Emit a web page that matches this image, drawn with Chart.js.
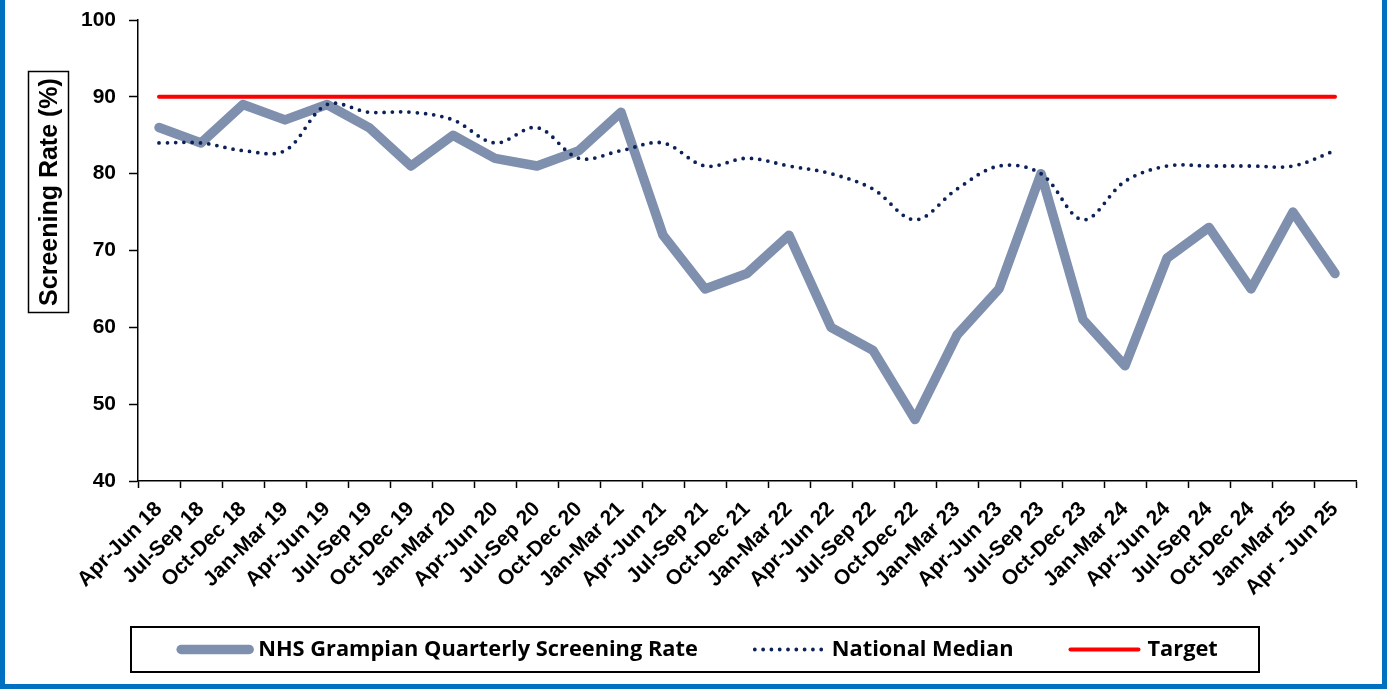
<!DOCTYPE html>
<html lang="en">
<head>
<meta charset="UTF-8">
<title>NHS Grampian Quarterly Screening Rate</title>
<script src="https://cdn.jsdelivr.net/npm/chart.js@4.4.0/dist/chart.umd.min.js"></script>
<style>
  html, body { margin: 0; padding: 0; background: #fff; }
  canvas { display: block; }
</style>
</head>
<body>
<canvas id="screeningChart" width="1387" height="689"></canvas>
<script>
const quarters = [
  "Apr-Jun 18", "Jul-Sep 18", "Oct-Dec 18", "Jan-Mar 19", "Apr-Jun 19", "Jul-Sep 19",
  "Oct-Dec 19", "Jan-Mar 20", "Apr-Jun 20", "Jul-Sep 20", "Oct-Dec 20", "Jan-Mar 21",
  "Apr-Jun 21", "Jul-Sep 21", "Oct-Dec 21", "Jan-Mar 22", "Apr-Jun 22", "Jul-Sep 22",
  "Oct-Dec 22", "Jan-Mar 23", "Apr-Jun 23", "Jul-Sep 23", "Oct-Dec 23", "Jan-Mar 24",
  "Apr-Jun 24", "Jul-Sep 24", "Oct-Dec 24", "Jan-Mar 25", "Apr - Jun 25"
];
const grampianRate = [86, 84, 89, 87, 89, 86, 81, 85, 82, 81, 83, 88, 72, 65, 67, 72, 60, 57, 48, 59, 65, 80, 61, 55, 69, 73, 65, 75, 67];
const nationalMedian = [84, 84, 83, 83, 89, 88, 88, 87, 84, 86, 82, 83, 84, 81, 82, 81, 80, 78, 74, 78, 81, 80, 74, 79, 81, 81, 81, 81, 83];
const targetRate = [90, 90, 90, 90, 90, 90, 90, 90, 90, 90, 90, 90, 90, 90, 90, 90, 90, 90, 90, 90, 90, 90, 90, 90, 90, 90, 90, 90, 90];
const seriesNames = ["NHS Grampian Quarterly Screening Rate", "National Median", "Target"];
const yAxisTitle = "Screening Rate (%)";

const arial = "'Liberation Sans', Arial, sans-serif";

// y title box, legend box and the blue page frame
const frame = {
  id: "frame",
  afterDraw(chart) {
    const ctx = chart.ctx;
    ctx.save();
    ctx.strokeStyle = "#000";
    ctx.lineWidth = 1.5;
    ctx.strokeRect(28.5, 71.5, 40, 241);
    ctx.translate(49, 192);
    ctx.rotate(-Math.PI / 2);
    ctx.font = "bold 25px " + arial;
    ctx.textAlign = "center";
    ctx.textBaseline = "middle";
    ctx.fillStyle = "#000";
    ctx.fillText(yAxisTitle, 0, 1);
    ctx.restore();

    // legend
    ctx.save();
    ctx.lineWidth = 2;
    ctx.strokeStyle = "#000";
    ctx.strokeRect(131, 627, 1128, 45);
    ctx.font = "bold 20px 'Open Sans', sans-serif";
    const fit = 20 * 439 / ctx.measureText(seriesNames[0]).width;
    ctx.font = "bold " + fit.toFixed(1) + "px 'Open Sans', sans-serif";
    ctx.textBaseline = "middle";
    const sampleW = 74, gapText = 6, gapItem = 54, cy = 649.5;
    const widths = seriesNames.map(n => ctx.measureText(n).width);
    let total = 0;
    widths.forEach((w, i) => { total += sampleW + gapText + w + (i < widths.length - 1 ? gapItem : 0); });
    let x = 698 - total / 2;
    chart.data.datasets.forEach((ds, i) => {
      ctx.save();
      ctx.strokeStyle = ds.borderColor;
      ctx.lineWidth = ds.borderWidth;
      ctx.lineCap = "round";
      ctx.setLineDash(ds.borderDash || []);
      ctx.beginPath();
      ctx.moveTo(x + 3, cy);
      ctx.lineTo(x + sampleW - 3, cy);
      ctx.stroke();
      ctx.restore();
      ctx.fillStyle = "#000";
      ctx.fillText(ds.label, x + sampleW + gapText, cy);
      x += sampleW + gapText + widths[i] + gapItem;
    });
    ctx.restore();

    ctx.save();
    ctx.fillStyle = "#0070C0";
    ctx.fillRect(0, 0, 5, 689);
    ctx.fillRect(1382, 0, 5, 689);
    ctx.fillRect(0, 684, 1387, 5);
    ctx.restore();
  }
};

new Chart(document.getElementById("screeningChart"), {
  type: "line",
  data: {
    labels: quarters,
    datasets: [
      {
        label: seriesNames[0],
        data: grampianRate,
        borderColor: "#7F8FAE",
        borderWidth: 9.5,
        borderJoinStyle: "round",
        borderCapStyle: "round",
        pointRadius: 0,
        tension: 0,
        order: 3
      },
      {
        label: seriesNames[1],
        data: nationalMedian,
        borderColor: "#0B2158",
        borderWidth: 3.8,
        borderDash: [0, 8.3],
        borderCapStyle: "round",
        pointRadius: 0,
        tension: 0.35,
        order: 2
      },
      {
        label: seriesNames[2],
        data: targetRate,
        borderColor: "#FF0000",
        borderWidth: 4,
        borderCapStyle: "round",
        pointRadius: 0,
        tension: 0,
        order: 1
      }
    ]
  },
  options: {
    responsive: false,
    animation: false,
    devicePixelRatio: 1,
    layout: { padding: { left: 0, right: 31, top: 20, bottom: 0 } },
    plugins: {
      legend: { display: false },
      tooltip: { enabled: false }
    },
    scales: {
      x: {
        offset: true,
        grid: { display: true, drawOnChartArea: false, offset: true, color: "#000", tickLength: 7, tickWidth: 1.5 },
        border: { color: "#000", width: 1.5 },
        ticks: {
          autoSkip: false,
          maxRotation: 45,
          minRotation: 45,
          padding: 9,
          color: "#000",
          font: { family: arial, size: 21, weight: "bold" }
        },
        afterFit(scale) { scale.height = 208; }
      },
      y: {
        min: 40,
        max: 100,
        grid: { display: true, drawOnChartArea: false, color: "#000", tickLength: 9, tickWidth: 1.5 },
        border: { color: "#000", width: 1.5 },
        ticks: {
          stepSize: 10,
          padding: 13,
          color: "#000",
          font: { family: arial, size: 21, weight: "bold" }
        },
        afterFit(scale) {
          scale.width = 138;
          scale.paddingTop = 0;
          scale.paddingBottom = 0;
        }
      }
    }
  },
  plugins: [frame]
});
</script>
</body>
</html>
